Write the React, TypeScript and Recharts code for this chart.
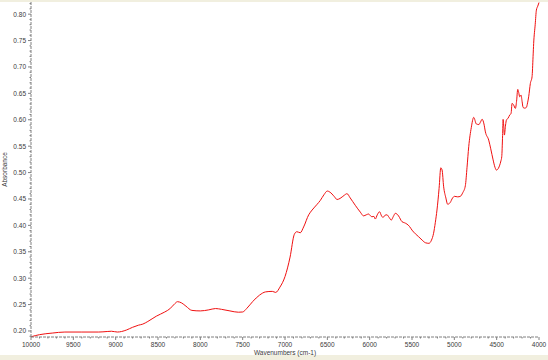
import { Line, LineChart, XAxis, YAxis } from "recharts";

// Spectrum, wavenumber (cm-1) high -> low
const wavenumbers = [
  10000, 9900, 9750, 9600, 9400, 9200, 9100, 9050, 8980, 8930, 8870, 8800, 8730, 8680, 8620,
  8520, 8420, 8360, 8300, 8270, 8220, 8170, 8100, 8000, 7900, 7820, 7750, 7650, 7550, 7500,
  7450, 7380, 7300, 7230, 7150, 7110, 7060, 7000, 6940, 6890, 6860, 6820, 6780, 6720, 6680,
  6620, 6584, 6540, 6500, 6470, 6420, 6385, 6350, 6300, 6268, 6230, 6170, 6110, 6072, 6040,
  6013, 5990, 5973, 5950, 5934, 5910, 5883, 5860, 5843, 5820, 5796, 5770, 5745, 5720, 5697,
  5675, 5658, 5618, 5590, 5560, 5530, 5500, 5460, 5422, 5380, 5340, 5300, 5270, 5245, 5225,
  5205, 5180, 5160, 5145, 5126, 5100, 5079, 5050, 5020, 5000, 4960, 4929, 4900, 4870, 4850,
  4830, 4800, 4771, 4740, 4710, 4690, 4672, 4650, 4633, 4594, 4570, 4542, 4520, 4503, 4480,
  4464, 4450, 4440, 4430, 4424, 4415, 4409, 4395, 4385, 4365, 4346, 4330, 4318, 4300, 4279,
  4265, 4251, 4240, 4228, 4212, 4200, 4188, 4170, 4149, 4135, 4122, 4102, 4082, 4070, 4063,
  4045, 4031, 4015, 4000,
];

const absorbance = [
  0.189, 0.193, 0.196, 0.198, 0.198, 0.198, 0.199, 0.1995, 0.198, 0.199, 0.202, 0.207, 0.211, 0.213, 0.218,
  0.228, 0.236, 0.242, 0.252, 0.2555, 0.253, 0.247, 0.239, 0.238, 0.24, 0.2425, 0.241, 0.238, 0.2355, 0.236,
  0.243, 0.256, 0.268, 0.274, 0.275, 0.273, 0.283, 0.303, 0.34, 0.383, 0.388, 0.386, 0.397, 0.42, 0.429,
  0.44, 0.447, 0.458, 0.465, 0.463, 0.455, 0.449, 0.451, 0.457, 0.46, 0.452, 0.438, 0.425, 0.418, 0.42,
  0.4215, 0.418, 0.4163, 0.417, 0.412, 0.42, 0.4258, 0.418, 0.415, 0.419, 0.42, 0.415, 0.41, 0.417, 0.4228,
  0.421, 0.4177, 0.407, 0.405, 0.4025, 0.398, 0.391, 0.384, 0.3785, 0.372, 0.367, 0.366, 0.372, 0.385, 0.405,
  0.429, 0.47, 0.509, 0.505, 0.473, 0.452, 0.44, 0.443, 0.452, 0.455, 0.454, 0.455, 0.462, 0.475, 0.51,
  0.549, 0.585, 0.6045, 0.592, 0.591, 0.596, 0.601, 0.592, 0.577, 0.5615, 0.545, 0.524, 0.51, 0.5047, 0.508,
  0.514, 0.522, 0.53, 0.57, 0.6007, 0.585, 0.571, 0.59, 0.5994, 0.603, 0.609, 0.612, 0.631, 0.628, 0.6215,
  0.635, 0.6575, 0.652, 0.6435, 0.6467, 0.635, 0.6234, 0.622, 0.6234, 0.632, 0.6435, 0.6689, 0.6814, 0.72, 0.7446,
  0.78, 0.8076, 0.815, 0.822,
];

const xMajorTicks = [10000, 9500, 9000, 8500, 8000, 7500, 7000, 6500, 6000, 5500, 5000, 4500, 4000];
const yMajorTicks = [0.2, 0.25, 0.3, 0.35, 0.4, 0.45, 0.5, 0.55, 0.6, 0.65, 0.7, 0.75, 0.8];

// minor ticks: every 100 cm-1 and every 0.01 absorbance
const xTicks: number[] = [];
for (let w = 4000; w <= 10000; w += 100) xTicks.push(w);
const yTicks: number[] = [];
for (let i = 19; i <= 82; i++) yTicks.push(i / 100);

const data = wavenumbers.map((wn, i) => ({ wn, a: absorbance[i] }));

const AXIS = "#808080";
const TEXT = "#3a3a3a";
const FONT = "'Liberation Sans', Arial, sans-serif";

function XTick({ x, y, payload }: any) {
  const major = xMajorTicks.includes(payload.value);
  return (
    <g>
      <line x1={x} x2={x} y1={y} y2={y + (major ? 3 : 1.5)} stroke={AXIS} />
      {major && (
        <text x={x} y={y + 10} textAnchor="middle" fontSize={6.5} fill={TEXT} fontFamily={FONT}>
          {payload.value}
        </text>
      )}
    </g>
  );
}

function YTick({ x, y, payload }: any) {
  const major = Math.round(payload.value * 100) % 5 === 0;
  return (
    <g>
      <line x1={x - (major ? 3 : 1.5)} x2={x} y1={y} y2={y} stroke={AXIS} />
      {major && (
        <text x={x - 5} y={y + 2.5} textAnchor="end" fontSize={6.5} fill={TEXT} fontFamily={FONT}>
          {payload.value.toFixed(2)}
        </text>
      )}
    </g>
  );
}

export default function App() {
  return (
    <div style={{ position: "relative", width: 548, height: 360, background: "#f1efdf" }}>
      <style>{`body { margin: 0; }`}</style>
      <div style={{ position: "absolute", top: 2, left: 0, width: 548, height: 353, background: "#fff" }} />
      <LineChart
        width={548}
        height={360}
        data={data}
        margin={{ top: 2, right: 9, bottom: 0, left: 0 }}
        style={{ position: "absolute", top: 0, left: 0 }}
      >
        <XAxis
          dataKey="wn"
          type="number"
          domain={[4000, 10000]}
          reversed
          ticks={xTicks}
          interval={0}
          height={23}
          tickSize={0}
          tickMargin={0}
          tickLine={false}
          tick={<XTick />}
          axisLine={{ stroke: AXIS, strokeDasharray: "3 1" }}
          label={{
            value: "Wavenumbers (cm-1)",
            position: "insideBottom",
            offset: 5,
            fontSize: 6.5,
            fill: TEXT,
            fontFamily: FONT,
          }}
        />
        <YAxis
          type="number"
          domain={[0.1886, 0.823]}
          ticks={yTicks}
          interval={0}
          width={31}
          tickSize={0}
          tickMargin={0}
          tickLine={false}
          tick={<YTick />}
          axisLine={{ stroke: AXIS, strokeDasharray: "3 1" }}
          allowDataOverflow
          label={{
            value: "Absorbance",
            angle: -90,
            position: "insideLeft",
            offset: 5,
            fontSize: 6.5,
            fill: TEXT,
            fontFamily: FONT,
            style: { textAnchor: "middle" },
          }}
        />
        <Line
          type="monotone"
          dataKey="a"
          stroke="#f01010"
          strokeWidth={1}
          dot={false}
          isAnimationActive={false}
        />
      </LineChart>
    </div>
  );
}
